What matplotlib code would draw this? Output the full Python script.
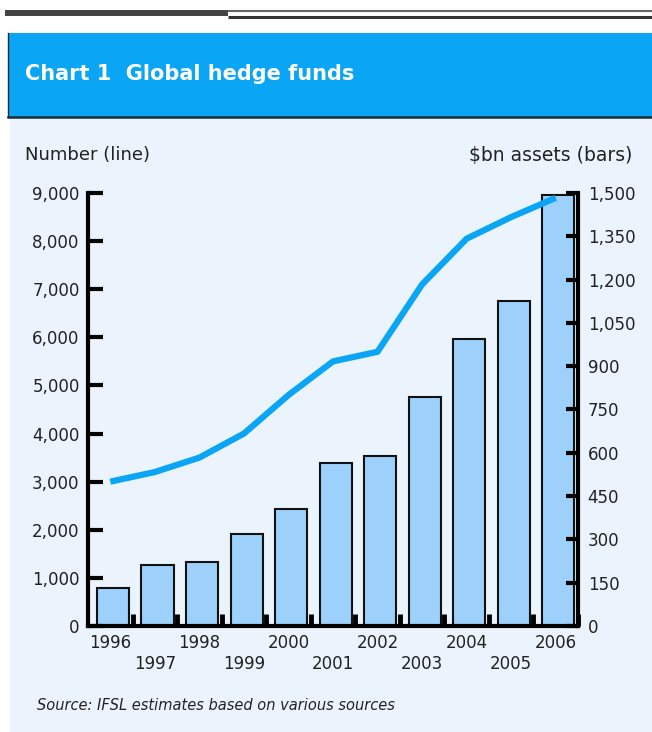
import numpy as np
import matplotlib
matplotlib.use('Agg')
import matplotlib.pyplot as plt
from matplotlib.patches import Rectangle
from matplotlib.ticker import FuncFormatter

years = [1996, 1997, 1998, 1999, 2000, 2001, 2002, 2003, 2004, 2005, 2006]
# $bn assets (bars, right axis)
assets = [130, 210, 220, 320, 405, 565, 590, 795, 995, 1125, 1492]
# number of funds (line, left axis)
number = [3000, 3200, 3500, 4000, 4800, 5500, 5700, 7100, 8050, 8500, 8900]

left_ticks = list(range(0, 9001, 1000))
right_ticks = list(range(0, 1501, 150))

title = 'Chart 1  Global hedge funds'
source = 'Source: IFSL estimates based on various sources'

fig = plt.figure(figsize=(6.52, 7.32), dpi=100)

# background / frame drawn in pixel coords
bg = fig.add_axes([0, 0, 1, 1])
bg.set_xlim(0, 652)
bg.set_ylim(732, 0)
bg.axis('off')
bg.add_patch(Rectangle((10, 119), 642, 613, facecolor='#ebf4fd', edgecolor='none'))
bg.add_patch(Rectangle((8, 33), 644, 84, facecolor='#0aa5f5', edgecolor='none'))
bg.plot([8, 652], [117, 117], color='#1b2b36', lw=1.8)
bg.plot([8, 8], [33, 117], color='#1b2b36', lw=1.0)
bg.plot([5, 228], [13, 13], color='#444444', lw=4.3, solid_capstyle='butt')
bg.plot([228, 652], [11, 11], color='#666666', lw=1.5, solid_capstyle='butt')
bg.plot([228, 652], [16.5, 16.5], color='#333333', lw=2.2, solid_capstyle='butt')

bg.text(25, 74, title, color='white', fontsize=15, fontweight='bold', va='center')
bg.text(25, 155, 'Number (line)', fontsize=13, va='center', color='#222222')
bg.text(632, 156, r'\$bn assets (bars)', fontsize=13.5, va='center', ha='right', color='#222222')
bg.text(37, 705, source, fontsize=10.5, style='italic', va='center', color='#222222')

# main chart
ax = fig.add_axes([88 / 652, 106 / 732, 490 / 652, 433 / 732])
ax2 = ax.twinx()

x = np.arange(len(years))
ax2.bar(x + 0.06, assets, width=0.72, color='#9dd1fb', edgecolor='#111111', lw=1.5)
ax.plot(x, number, color='#0aa5f5', lw=4.5, solid_capstyle='butt')

ax.set_zorder(ax2.get_zorder() + 1)
ax.patch.set_visible(False)
ax2.patch.set_visible(False)

ax.set_xlim(-0.5, 10.5)
ax.set_ylim(0, 9000)
ax2.set_ylim(0, 1500)

for s in ['top', 'right']:
    ax.spines[s].set_visible(False)
for s in ['top', 'left', 'bottom']:
    ax2.spines[s].set_visible(False)
ax.spines['left'].set_linewidth(3)
ax.spines['bottom'].set_linewidth(3)
ax2.spines['right'].set_linewidth(3)

comma = FuncFormatter(lambda v, p: f'{int(v):,}')
ax.set_yticks(left_ticks)
ax.yaxis.set_major_formatter(comma)
ax.tick_params(axis='y', direction='in', length=11, width=3, pad=6, labelsize=12, labelcolor='#222222')
ax2.set_yticks(right_ticks)
ax2.yaxis.set_major_formatter(comma)
ax2.tick_params(axis='y', direction='in', length=9, width=3, pad=7, labelsize=12, labelcolor='#222222')

ax.set_xticks(x)
ax.set_xticklabels([str(y) if y % 2 == 0 else '\n' + str(y) for y in years])
ax.tick_params(axis='x', which='major', length=0, pad=6, labelsize=12, labelcolor='#222222')
ax.set_xticks(np.arange(0.5, 11, 1), minor=True)
ax.tick_params(axis='x', which='minor', direction='in', length=9, width=3.5)

fig.savefig('out.png', dpi=100)
